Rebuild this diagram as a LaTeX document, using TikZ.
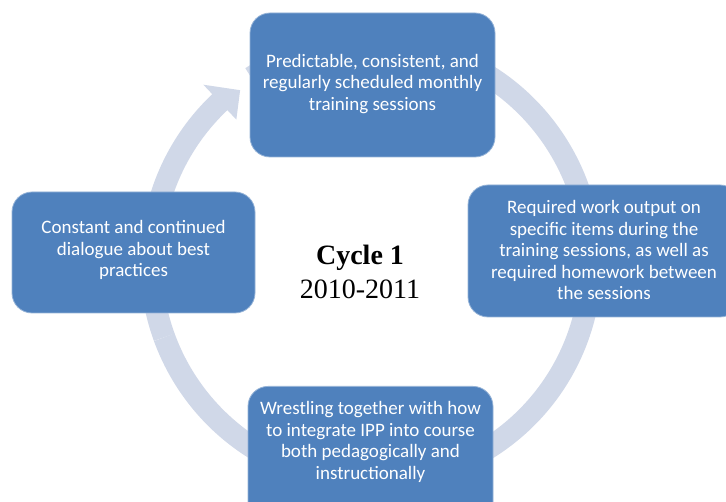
\documentclass[tikz,border=0pt]{standalone}
\usepackage{fontspec}
\usetikzlibrary{calc}
\setmainfont{Liberation Serif}
\newfontfamily\boxfont{Carlito}
\definecolor{boxblue}{HTML}{4F81BD}
\definecolor{arcblue}{HTML}{D0D8E8}
\begin{document}
\begin{tikzpicture}[x=1pt,y=1pt,
  box/.style={rectangle, rounded corners=20pt, fill=boxblue, draw=boxblue!60!white, line width=0.8pt, inner sep=0pt},
  boxtext/.style={align=center, text=white, font=\boxfont\fontsize{19}{21.5}\selectfont, inner sep=0pt},
  band/.style={draw=arcblue, line width=22pt}]
\clip (0,0) rectangle (726,-502);
\fill[white] (0,0) rectangle (726,-502);
\coordinate (C) at (371,-262);
% cycle band
\draw[band] (C) ++(123:220pt) arc[start angle=123, end angle=-160, radius=220pt];
\draw[band] (C) ++(200:220pt) arc[start angle=200, end angle=133, radius=220pt];
\fill[arcblue] ($(C)+(133.4:244pt)$) -- ($(C)+(127.3:216pt)$) -- ($(C)+(133.4:196pt)$) -- cycle;
% boxes
\node[box, minimum width=245pt, minimum height=144pt] (top) at (372.5,-85) {};
\node[boxtext] (toptext) at (372.5,-84) {Predictable, consistent, and\\regularly scheduled monthly\\training sessions};
\node[box, minimum width=272pt, minimum height=132pt] (right) at (604,-251) {};
\node[boxtext] (righttext) at (604,-250) {Required work output on\\specific items during the\\training sessions, as well as\\required homework between\\the sessions};
\node[box, minimum width=243pt, minimum height=121pt] (left) at (133.5,-252.5) {};
\node[boxtext] (lefttext) at (133.5,-250) {Constant and continued\\dialogue about best\\practices};
\node[box, minimum width=245pt, minimum height=150pt, anchor=north] (bottom) at (370.5,-386) {};
\node[boxtext] (bottomtext) at (370.5,-442) {Wrestling together with how\\to integrate IPP into course\\both pedagogically and\\instructionally};
% centre label
\node[align=center, inner sep=0pt, font=\fontsize{28}{34}\selectfont] (center) at (360,-272) {\textbf{Cycle 1}\\2010-2011};
\end{tikzpicture}
\end{document}
